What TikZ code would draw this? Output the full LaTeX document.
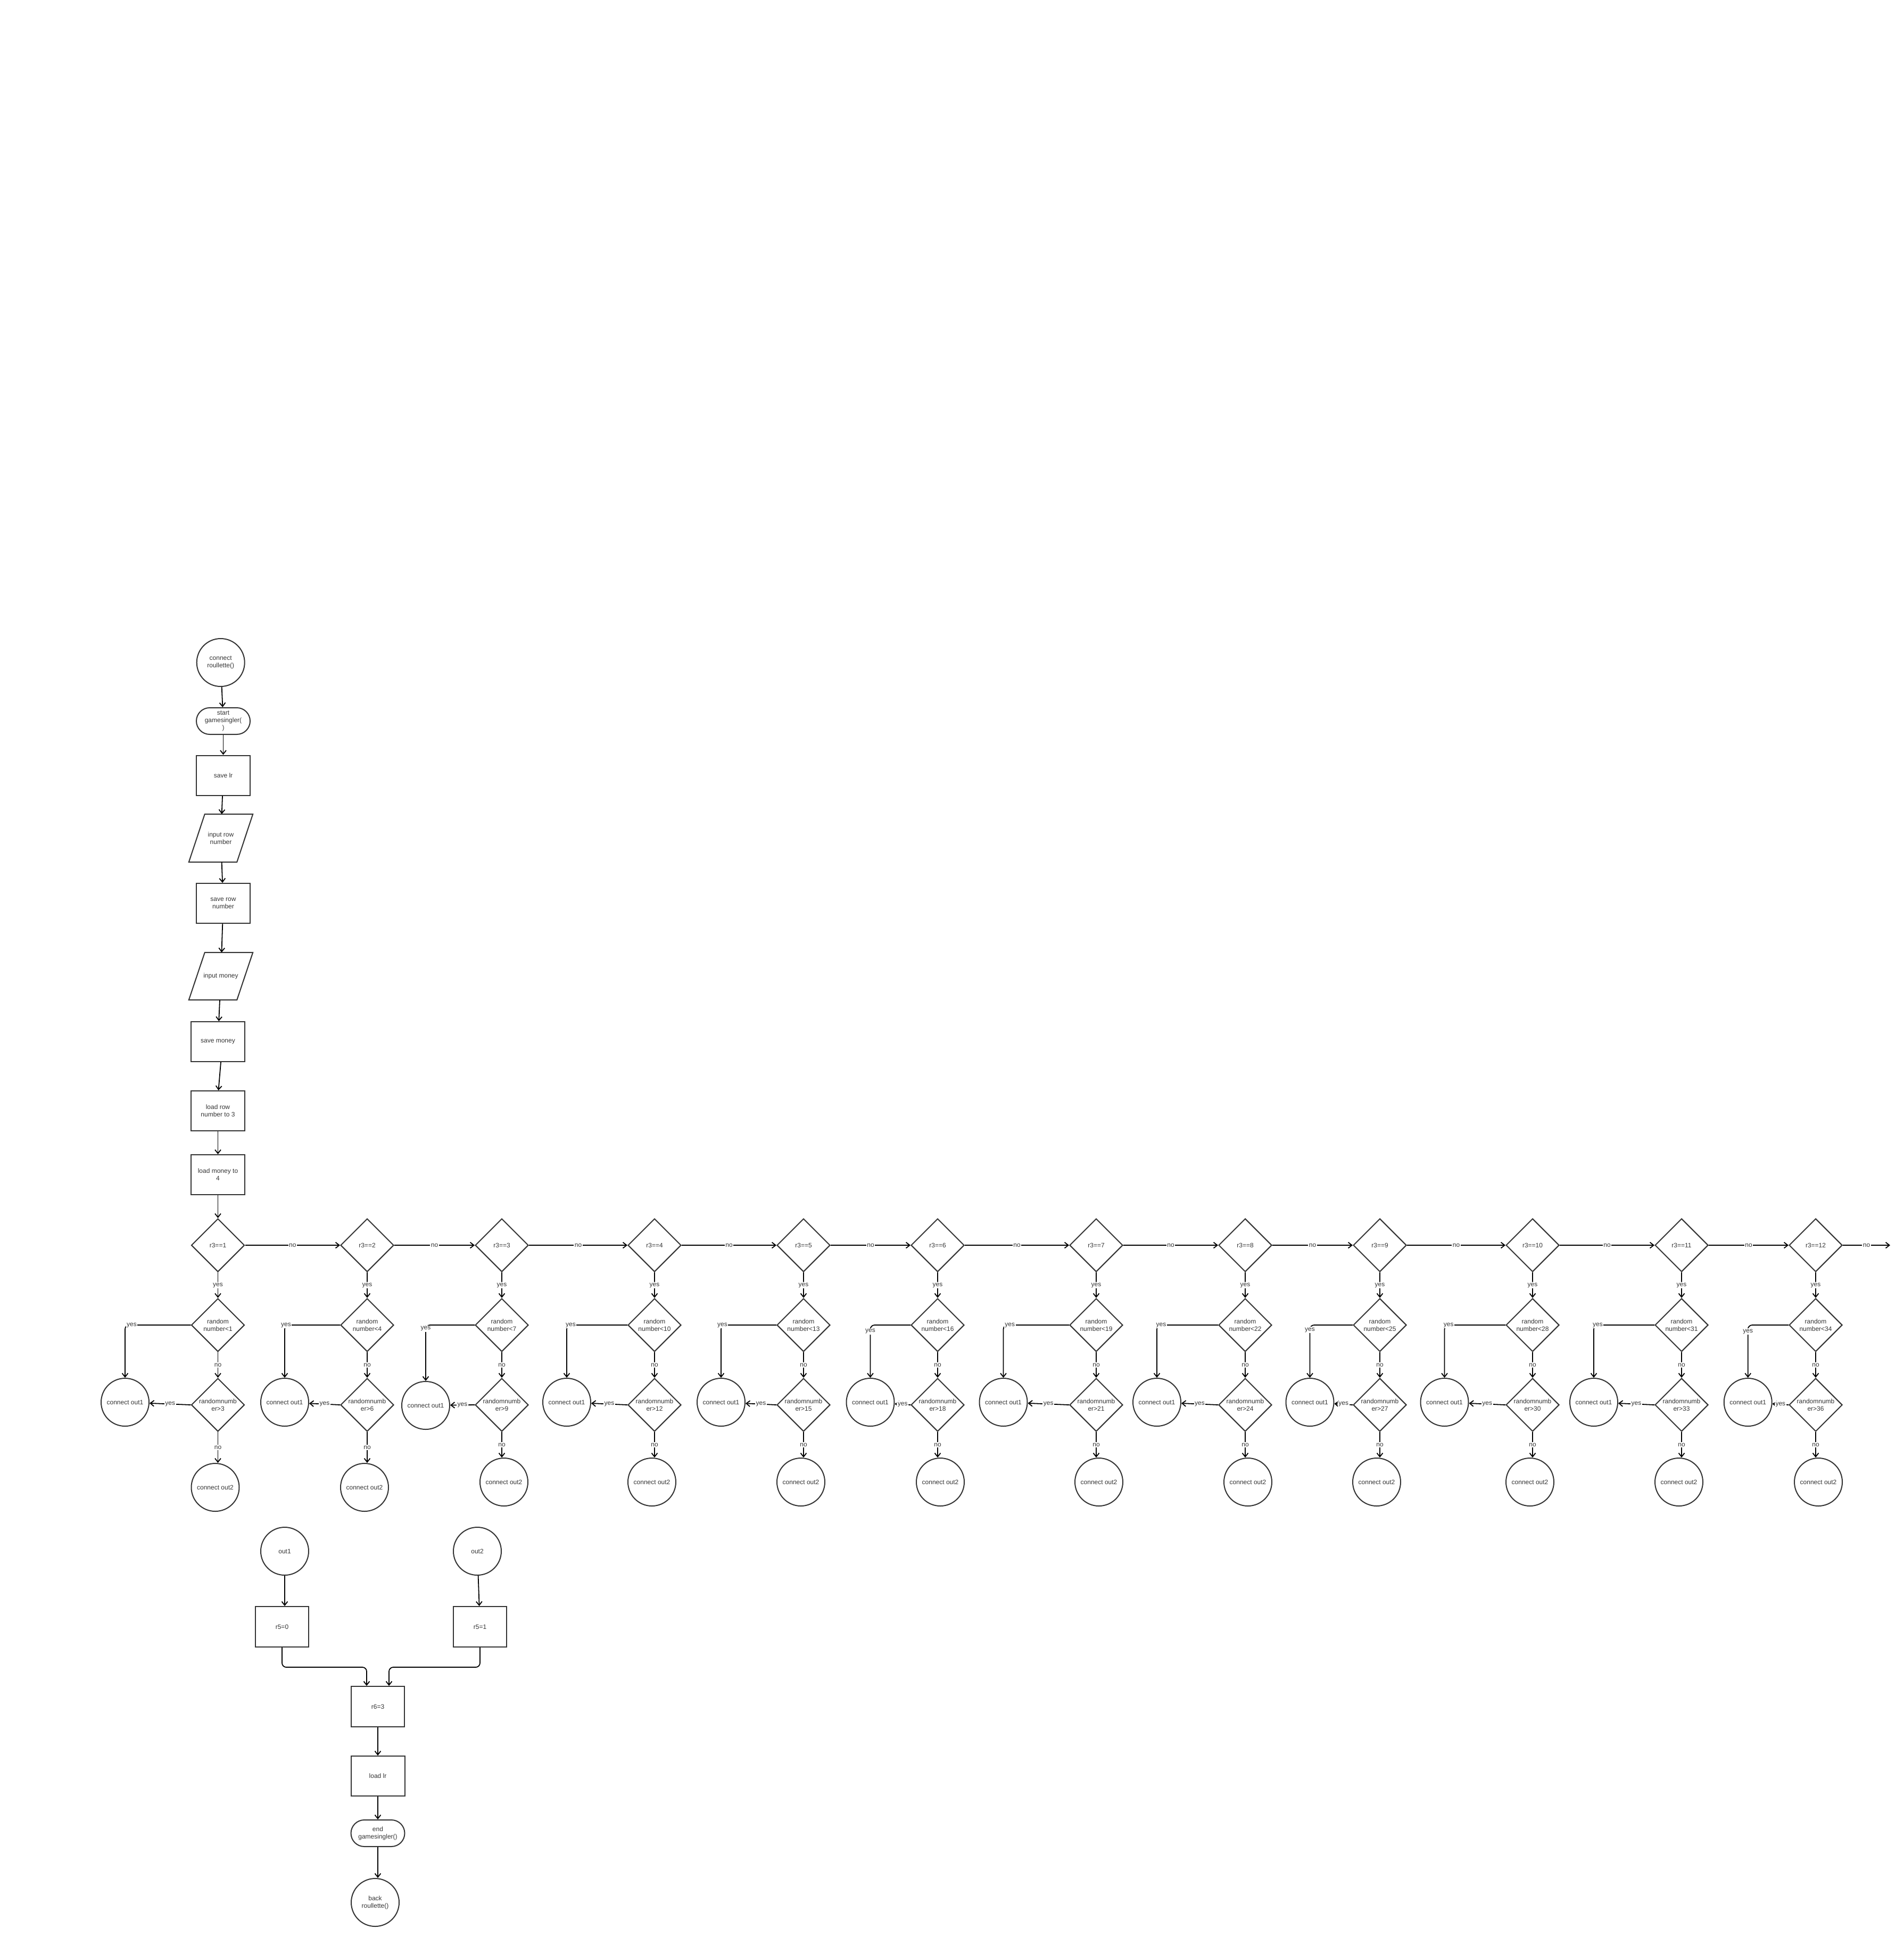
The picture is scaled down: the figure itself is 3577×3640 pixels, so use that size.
\documentclass[tikz,border=0pt]{standalone}
\usepackage{fontspec}
\setmainfont{Liberation Sans}
\usetikzlibrary{shapes.geometric, arrows.meta}
\definecolor{shp}{HTML}{333333}
\definecolor{txtc}{HTML}{333333}
\begin{document}
\begin{tikzpicture}[x=1pt, y=-1pt,
  every node/.style={font=\fontsize{12}{14}\selectfont, text=txtc, align=center},
  box/.style={draw=shp, line width=2pt, rectangle, minimum width=101pt, minimum height=75pt, inner sep=0pt},
  term/.style={draw=shp, line width=2pt, rectangle, rounded corners=25pt, minimum width=101pt, minimum height=50pt, inner sep=0pt},
  circ/.style={draw=shp, line width=2pt, circle, minimum size=90pt, inner sep=0pt},
  dia/.style={draw=shp, line width=2pt, diamond, minimum width=100pt, minimum height=100pt, inner sep=0pt},
  paratext/.style={rectangle, minimum width=90pt, minimum height=90pt, inner sep=0pt},
  paraline/.style={draw=shp, line width=2pt, line join=miter},
  arr/.style={draw=black, line width=1.8pt, -{Straight Barb[length=7pt,width=11pt]}},
  lbl/.style={fill=white, inner sep=1.5pt},
]
\useasboundingbox (0,0) rectangle (3577,3640);

% ---- upper chain ----
\node[circ] (cr) at (414.7,1245) {connect\\roullette()};
\node[term] (st) at (419.5,1355) {start\\gamesingler(\\)};
\node[box] (slr) at (419.5,1457) {save lr};
\node[paratext] (irn) at (415,1575) {input row\\number};
\draw[paraline] ([xshift=-15pt]irn.south west) -- ([xshift=-15pt]irn.south east) -- ([xshift=15pt]irn.north east) -- ([xshift=15pt]irn.north west) -- cycle;
\node[box] (srn) at (419.5,1697.5) {save row\\number};
\node[paratext, minimum height=89pt] (im) at (415,1834.5) {input money};
\draw[paraline] ([xshift=-15pt]im.south west) -- ([xshift=-15pt]im.south east) -- ([xshift=15pt]im.north east) -- ([xshift=15pt]im.north west) -- cycle;
\node[box] (sm) at (409.5,1957.5) {save money};
\node[box] (lrn) at (409.5,2087.5) {load row\\number to 3};
\node[box] (lm) at (409.5,2207.5) {load money to\\4};

\draw[arr] (cr) -- (st);
\draw[arr] (st) -- (slr);
\draw[arr] (slr) -- (irn);
\draw[arr] (irn) -- (srn);
\draw[arr] (srn) -- (im);
\draw[arr] (im) -- (sm);
\draw[arr] ([xshift=5.5pt]sm.south) -- ([xshift=1pt]lrn.north);
\draw[arr] (lrn) -- (lm);

% ---- decision columns ----
\foreach \k/\dx/\ox/\oy/\tx/\ty/\lx/\ly in {
1/409.5/235/2635/404.5/2795/247.5/2490,
2/690/535/2635/685/2795/537.5/2490,
3/943/800/2641/947/2785/800/2496.5,
4/1230/1065/2635/1225/2785/1072.5/2490,
5/1510/1355/2635/1505/2785/1357.5/2490,
6/1762/1635.5/2635/1767/2785/1635.5/2501.75,
7/2060/1885.5/2635/2065/2785/1897.75/2490,
8/2340/2174/2635/2345/2785/2182/2490,
9/2593/2461.5/2635/2587/2785/2461.5/2499,
10/2880/2714.5/2635/2875/2785/2722.25/2490,
11/3160/2995/2635/3155/2785/3002.5/2490,
12/3412/3284.7/2635/3417/2785/3284.7/2502}{
  \pgfmathtruncatemacro{\na}{3*\k-2}
  \pgfmathtruncatemacro{\nb}{3*\k}
  \node[dia] (d\k) at (\dx,2340) {};
  \node at (d\k) {r3==\k};
  \node[dia] (b\k) at (\dx,2490) {};
  \node at (b\k) {random\\number<\na};
  \node[dia] (c\k) at (\dx,2640) {};
  \node at (c\k) {randomnumb\\er>\nb};
  \node[circ] (o\k) at (\ox,\oy) {connect out1};
  \node[circ] (t\k) at (\tx,\ty) {connect out2};
  \draw[arr] (d\k.south) -- node[lbl]{yes} (b\k.north);
  \draw[arr] (b\k.south) -- node[lbl]{no} (c\k.north);
  \draw[arr] (c\k.south) -- node[lbl]{no} (c\k.south |- t\k.north);
  \draw[arr] (c\k.west) -- node[lbl]{yes} (o\k);
  \draw[arr, rounded corners=8pt] (b\k.west) -| (o\k.north);
  \node[lbl] at (\lx,\ly) {yes};
}

\draw[arr] (lm) -- (d1);
\foreach \k in {1,...,11}{
  \pgfmathtruncatemacro{\n}{\k+1}
  \draw[arr] (d\k.east) -- node[lbl]{no} (d\n.west);
}
\coordinate (endno) at (3552,2340);
\draw[arr] (d12.east) -- node[lbl]{no} (endno);

% ---- bottom part ----
\node[circ] (out1) at (535,2915) {out1};
\node[circ] (out2) at (897,2915) {out2};
\node[box, minimum width=100pt, minimum height=76pt] (r50) at (530,3057) {r5=0};
\node[box, minimum width=100pt, minimum height=76pt] (r51) at (902,3057) {r5=1};
\node[box, minimum width=100pt, minimum height=76pt] (r63) at (710,3207) {r6=3};
\node[box] (llr) at (710,3337.5) {load lr};
\node[term] (eg) at (710,3445) {end\\gamesingler()};
\node[circ] (br) at (705,3575) {back\\roullette()};

\draw[arr] (out1.south) -- (out1.south |- r50.north);
\draw[arr] (out2) -- (r51);
\draw[arr, rounded corners=8pt] (r50.south) -- ++(0,37) -| ([xshift=-21pt]r63.north);
\draw[arr, rounded corners=8pt] (r51.south) -- ++(0,37) -| ([xshift=21pt]r63.north);
\draw[arr] (r63) -- (llr);
\draw[arr] (llr) -- (eg);
\draw[arr] (eg.south) -- (eg.south |- br.north);
\end{tikzpicture}
\end{document}
